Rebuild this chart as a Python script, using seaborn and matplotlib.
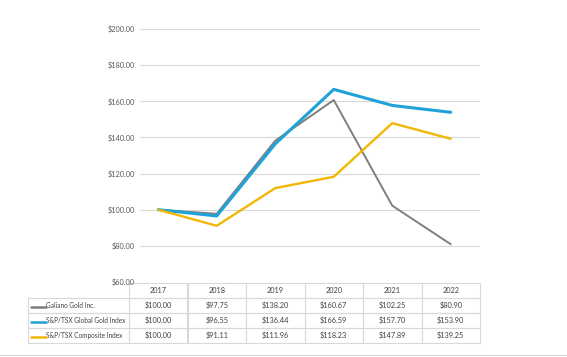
import matplotlib
matplotlib.use("Agg")
import matplotlib.pyplot as plt
import seaborn as sns
import pandas as pd
from matplotlib.lines import Line2D

# data
years = ["2017", "2018", "2019", "2020", "2021", "2022"]
galiano = [100.00, 97.75, 138.20, 160.67, 102.25, 80.90]
gold_index = [100.00, 96.55, 136.44, 166.59, 157.70, 153.90]
composite = [100.00, 91.11, 111.96, 118.23, 147.89, 139.25]
series_names = ["Galiano Gold Inc.", "S&P/TSX Global Gold Index", "S&P/TSX Composite Index"]
colors = ["#7F7F7F", "#1FA2D8", "#F2B705"]

df = pd.DataFrame({"year": years * 3,
                   "value": galiano + gold_index + composite,
                   "series": [s for s in series_names for _ in years]})

sns.set_style("white")
plt.rcParams["font.family"] = ["Lato", "DejaVu Sans"]

W, H = 567, 357
fig = plt.figure(figsize=(W / 100, H / 100), dpi=100)
ax = fig.add_axes([129 / W, 1 - 282 / H, (480 - 129) / W, (282 - 29) / H])

sns.lineplot(data=df, x="year", y="value", hue="series", palette=colors,
             hue_order=series_names, ax=ax, legend=False, sort=False, zorder=3)
for line, lw in zip(ax.get_lines(), [1.4, 2.2, 1.7]):
    line.set_linewidth(lw)

ax.set_xlim(-0.5, len(years) - 0.5)
ax.set_ylim(60, 200)
yt = list(range(60, 201, 20))
ax.set_yticks(yt)
ax.set_yticklabels([f"${v:.2f}" for v in yt])
ax.tick_params(axis="y", labelsize=5.3, colors="#595959", length=0, pad=-4)
ax.set_xticks([])
ax.set_xlabel("")
ax.set_ylabel("")
for v in yt[1:]:
    ax.axhline(v, xmin=11 / 351, xmax=1, color="#D9D9D9", lw=0.8, zorder=1)
for s in ax.spines.values():
    s.set_visible(False)

# data table below the plot (series names in first column)
rows = [galiano, gold_index, composite]
cell_text = [[n] + [f"${v:.2f}" for v in r] for n, r in zip(series_names, rows)]
row_h = 15 / (282 - 29)
ax_w = 480 - 129
left = (28 - 129) / ax_w
widths = [101] + [58.5] * len(years)
tbl = ax.table(cellText=cell_text, colLabels=[""] + years,
               colWidths=[w / sum(widths) for w in widths],
               cellLoc="center",
               bbox=[left, -4 * row_h - 1 / 253, 1 - left, 4 * row_h])
tbl.auto_set_font_size(False)
tbl.set_fontsize(5.3)
for (r, c), cell in tbl.get_celld().items():
    cell.set_edgecolor("#D9D9D9")
    cell.set_facecolor("none")
    cell.set_linewidth(0.8)
    cell.get_text().set_color("#404040")
    if c == 0:
        cell.get_text().set_ha("left")
        cell.get_text().set_fontsize(4.7)
        cell.PAD = 0.18
        if r == 0:
            cell.visible_edges = "open"

# legend keys in the row labels
fig.canvas.draw()
rend = fig.canvas.get_renderer()
for i, col in enumerate(colors):
    cell = tbl[(i + 1, 0)]
    bb = cell.get_window_extent(rend)
    x0, x1 = (bb.x0 + 3) / W, (bb.x0 + 17.5) / W
    yc = (bb.y0 + bb.y1) / 2 / H - 1.5 / H
    fig.add_artist(Line2D([x0, x1], [yc, yc], color=col, lw=1.8,
                          transform=fig.transFigure))

# bottom rule
fig.add_artist(Line2D([0, 1], [1 - 355 / H, 1 - 355 / H], color="#D9D9D9",
                      lw=0.8, transform=fig.transFigure))

fig.savefig("out.png", dpi=100)
